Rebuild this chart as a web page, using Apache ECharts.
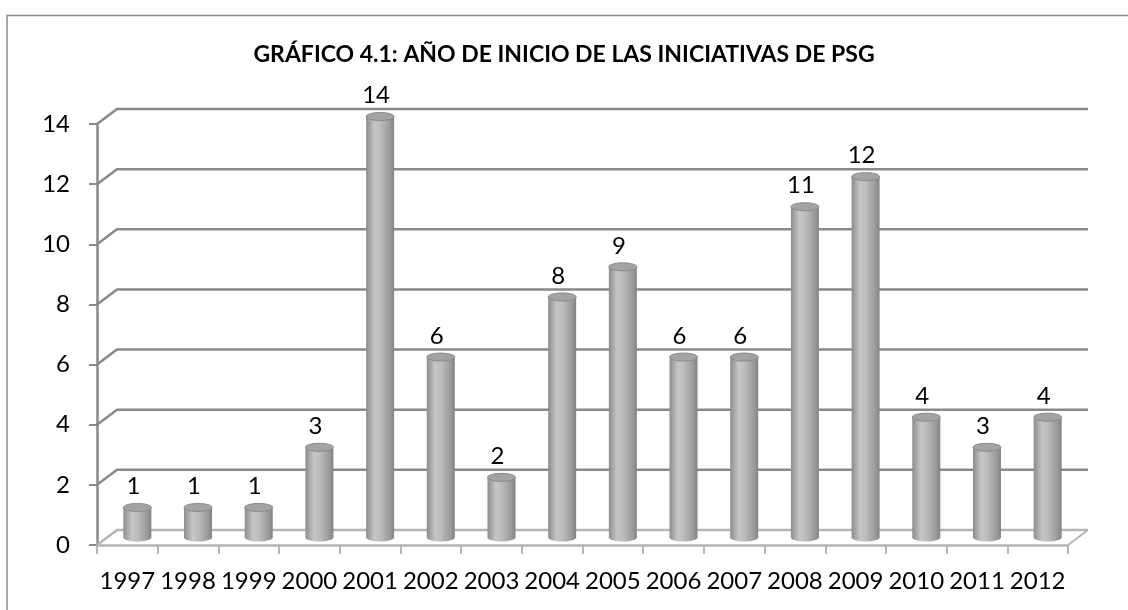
<!DOCTYPE html>
<html>
<head>
<meta charset="utf-8">
<script src="https://cdn.jsdelivr.net/npm/echarts@6/dist/echarts.min.js"></script>
<style>html,body{margin:0;padding:0;background:#fff}#c{width:1128px;height:610px}</style>
</head>
<body>
<div id="c"></div>
<script>
const titleText = 'GRÁFICO 4.1: AÑO DE INICIO DE LAS INICIATIVAS DE PSG';
const years = ['1997','1998','1999','2000','2001','2002','2003','2004','2005','2006','2007','2008','2009','2010','2011','2012'];
const counts = [1, 1, 1, 3, 14, 6, 2, 8, 9, 6, 6, 11, 12, 4, 3, 4];
const yTicks = [0, 2, 4, 6, 8, 10, 12, 14];

const DX = 20, DY = -15;        // depth of the 3D box
const FONT = 'Lato, "Open Sans", sans-serif';
const gridColor = '#898989';

const chart = echarts.init(document.getElementById('c'), null, {renderer: 'canvas'});

const wallRender = function (params, api) {
  const cs = params.coordSys;
  const v = api.value(0);
  const y = api.coord([0, v])[1];
  const x0 = cs.x, x1 = cs.x + cs.width;
  const children = [];
  const isFloor = v === 0;
  const col = isFloor ? '#b5b5b5' : gridColor;
  children.push({
    type: 'polyline',
    shape: {points: [[x0, y], [x0 + DX, y + DY], [x1 + DX, y + DY]]},
    style: {stroke: col, lineWidth: 2.5, fill: null}
  });
  if (isFloor) {
    children.push({
      type: 'line',
      shape: {x1: x1, y1: y, x2: x1 + DX, y2: y + DY},
      style: {stroke: col, lineWidth: 2}
    });
  }
  return {type: 'group', children: children};
};

const barRender = function (params, api) {
  const i = api.value(0);
  const v = api.value(1);
  const top = api.coord([i, v]);
  const bot = api.coord([i, 0]);
  const cx = top[0] + DX / 2;
  const tY = top[1] + DY / 2;
  const bY = bot[1] + DY / 2;
  const r = 14, ry = 4;
  const grad = new echarts.graphic.LinearGradient(0, 0, 1, 0, [
    {offset: 0, color: '#8c8c8c'},
    {offset: 0.3, color: '#c6c6c6'},
    {offset: 0.5, color: '#bdbdbd'},
    {offset: 0.85, color: '#9a9a9a'},
    {offset: 1, color: '#838383'}
  ]);
  return {
    type: 'group',
    children: [
      {type: 'ellipse', shape: {cx: cx, cy: bY, rx: r, ry: ry}, style: {fill: grad}},
      {type: 'rect', shape: {x: cx - r, y: tY, width: 2 * r, height: bY - tY}, style: {fill: grad}},
      {type: 'ellipse', shape: {cx: cx, cy: tY, rx: r, ry: ry}, style: {fill: '#a3a3a3', stroke: '#8a8a8a', lineWidth: 1}},
      {type: 'text', style: {text: String(v), x: top[0] + 6, y: tY - 21, align: 'center', verticalAlign: 'middle',
        font: '24px ' + FONT, fill: '#000'}}
    ]
  };
};

chart.setOption({
  animation: false,
  backgroundColor: '#fff',
  title: {
    text: titleText, left: 'center', top: 38,
    textStyle: {fontFamily: FONT, fontWeight: 'bold', fontSize: 23, color: '#000'}
  },
  graphic: [{
    type: 'rect', shape: {x: 7, y: 15.5, width: 1300, height: 800},
    style: {fill: null, stroke: '#8c8c8c', lineWidth: 1.5}, z: -10
  }],
  grid: {left: 97, right: 60, top: 124, bottom: 65},
  xAxis: {
    type: 'category', data: years, boundaryGap: true,
    axisLine: {show: true, lineStyle: {color: '#b5b5b5', width: 2.5}},
    axisTick: {show: true, length: 9, interval: 0, lineStyle: {color: '#b5b5b5', width: 2}},
    axisLabel: {fontFamily: FONT, fontSize: 24, color: '#000', margin: 24, interval: 0},
    splitLine: {show: false}
  },
  yAxis: {
    type: 'value', min: 0, max: 14, interval: 2,
    axisLine: {show: true, lineStyle: {color: gridColor, width: 2.5}},
    axisTick: {show: true, length: 8, lineStyle: {color: gridColor, width: 2}},
    axisLabel: {fontFamily: FONT, fontSize: 24, color: '#000', margin: 27},
    splitLine: {show: false}
  },
  series: [
    {
      type: 'custom', renderItem: wallRender, z: 1, silent: true,
      data: yTicks.map(v => [v]), encode: {y: 0}
    },
    {
      type: 'custom', renderItem: barRender, z: 5, silent: true,
      data: counts.map((v, i) => [i, v]), encode: {x: 0, y: 1}
    }
  ]
});
</script>
</body>
</html>
